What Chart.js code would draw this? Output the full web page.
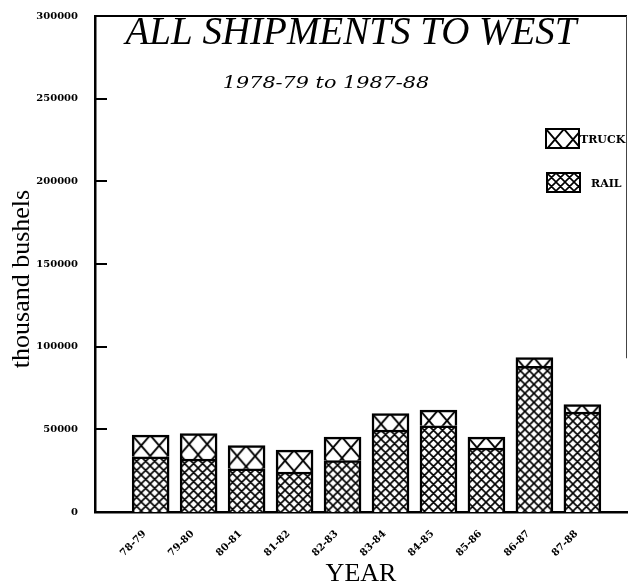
<!DOCTYPE html>
<html>
<head>
<meta charset="utf-8">
<script src="https://cdn.jsdelivr.net/npm/chart.js@4.4.0/dist/chart.umd.min.js"></script>
<style>
  html, body { margin: 0; padding: 0; background: #fff; }
  #wrap { width: 628px; height: 587px; }
</style>
</head>
<body>
<div id="wrap"><canvas id="grafik"></canvas></div>
<script>
// data (thousand bushels)
const years = ['78-79', '79-80', '80-81', '81-82', '82-83', '83-84', '84-85', '85-86', '86-87', '87-88'];
const rail  = [33400, 32000, 26100, 24100, 31100, 49500, 52100, 38600, 88100, 60400];
const truck = [13100, 15400, 14100, 13300, 14200, 10100,  9500,  6700,  5300,  4600];
const yTicks = [0, 50000, 100000, 150000, 200000, 250000, 300000];

// hatch tiles
function makeTile(w, h, lw) {
  const c = document.createElement('canvas');
  c.width = w; c.height = h;
  const g = c.getContext('2d');
  g.fillStyle = '#fff';
  g.fillRect(0, 0, w, h);
  g.strokeStyle = '#000';
  g.lineWidth = lw;
  g.beginPath();
  for (let k = -1; k <= 1; k++) {
    g.moveTo(k * w, 0); g.lineTo(k * w + w, h);
    g.moveTo(k * w + w, 0); g.lineTo(k * w, h);
  }
  g.stroke();
  return c;
}
const railTile = makeTile(9, 9, 1.6);
const truckTile = makeTile(18, 21, 1.8);

// pattern anchored to the top left corner of each bar
function hatch(kind) {
  return function (c) {
    const ch = c.chart, i = c.dataIndex;
    const tile = kind === 'truck' ? truckTile : railTile;
    const p = ch.ctx.createPattern(tile, 'repeat');
    if (i === undefined || !ch.scales.x || !ch.scales.y) return p;
    const left = ch.scales.x.getPixelForValue(i) - 18.5;
    const top = ch.scales.y.getPixelForValue(kind === 'truck' ? rail[i] + truck[i] : rail[i]);
    p.setTransform(new DOMMatrix([1, 0, 0, 1, left, top]));
    return p;
  };
}

const decor = {
  id: 'decor',
  afterDraw(chart) {
    const { ctx, chartArea: a, scales: { y } } = chart;
    ctx.save();
    ctx.strokeStyle = '#000';
    ctx.fillStyle = '#000';

    // frame
    ctx.lineWidth = 2;
    ctx.beginPath();
    ctx.moveTo(a.left, a.top);
    ctx.lineTo(a.right, a.top);
    ctx.stroke();
    ctx.lineWidth = 1;
    ctx.strokeStyle = '#444';
    ctx.beginPath();
    ctx.moveTo(a.right - 0.5, a.top);
    ctx.lineTo(a.right - 0.5, a.top + (a.bottom - a.top) * 0.69);
    ctx.stroke();

    // inner tick marks
    ctx.strokeStyle = '#000';
    ctx.lineWidth = 2;
    yTicks.slice(1, -1).forEach(v => {
      const py = Math.round(y.getPixelForValue(v));
      ctx.beginPath();
      ctx.moveTo(a.left, py);
      ctx.lineTo(a.left + 12, py);
      ctx.stroke();
    });

    // titles
    ctx.textAlign = 'center';
    ctx.textBaseline = 'alphabetic';
    ctx.font = 'italic 39px "Liberation Serif"';
    ctx.fillText('ALL SHIPMENTS TO WEST', 351, 44);
    ctx.save();
    ctx.translate(326, 88);
    ctx.scale(1.22, 1);
    ctx.font = 'italic 17px "DejaVu Serif"';
    ctx.fillText('1978-79 to 1987-88', 0, 0);
    ctx.restore();

    // y title
    ctx.save();
    ctx.translate(22, 279);
    ctx.rotate(-Math.PI / 2);
    ctx.textBaseline = 'middle';
    ctx.font = '26px "Liberation Serif"';
    ctx.fillText('thousand bushels', 0, 0);
    ctx.restore();

    // legend
    const items = [
      { label: 'TRUCK', tile: truckTile, x: 546, y: 129, tx: 580 },
      { label: 'RAIL', tile: railTile, x: 547, y: 173, tx: 591 }
    ];
    ctx.textAlign = 'left';
    ctx.textBaseline = 'middle';
    ctx.font = 'bold 11px "DejaVu Serif"';
    items.forEach(it => {
      const p = ctx.createPattern(it.tile, 'repeat');
      p.setTransform(new DOMMatrix([1, 0, 0, 1, it.x, it.y]));
      ctx.fillStyle = p;
      ctx.fillRect(it.x, it.y, 33, 19);
      ctx.lineWidth = 2;
      ctx.strokeRect(it.x, it.y, 33, 19);
      ctx.fillStyle = '#000';
      ctx.fillText(it.label, it.tx, it.y + 11);
    });
    ctx.restore();
  }
};

const tickFont = { family: 'DejaVu Serif', size: 10, weight: 'bold' };

new Chart(document.getElementById('grafik'), {
  type: 'bar',
  data: {
    datasets: [{
      label: 'RAIL',
      data: rail.map((v, i) => ({ x: i, y: v })),
      backgroundColor: hatch('rail'),
      borderColor: '#000',
      borderWidth: 2.5,
      stack: 'all'
    }, {
      label: 'TRUCK',
      data: truck.map((v, i) => ({ x: i, y: v })),
      backgroundColor: hatch('truck'),
      borderColor: '#000',
      borderWidth: 2.5,
      stack: 'all'
    }]
  },
  options: {
    responsive: true,
    maintainAspectRatio: false,
    animation: false,
    events: [],
    barThickness: 37,
    layout: { padding: { top: 16, right: 1 } },
    scales: {
      x: {
        type: 'linear',
        offset: false,
        min: -1.16,
        max: 9.93,
        afterBuildTicks: s => { s.ticks = years.map((_, i) => ({ value: i })); },
        afterFit: s => { s.height = 75; s.paddingTop = 0; },
        grid: { display: false, drawTicks: false },
        border: { display: true, width: 2.5, color: '#000' },
        ticks: {
          autoSkip: false,
          minRotation: 45,
          maxRotation: 45,
          padding: 16,
          labelOffset: -6,
          color: '#000',
          font: tickFont,
          callback: v => years[v] ?? ''
        },
        title: {
          display: true,
          text: 'YEAR',
          color: '#000',
          padding: 0,
          font: { family: 'Liberation Serif', size: 26, lineHeight: 1 }
        }
      },
      y: {
        stacked: true,
        min: 0,
        max: 300000,
        afterBuildTicks: s => { s.ticks = yTicks.map(v => ({ value: v })); },
        afterFit: s => { s.width = 95; s.paddingTop = 0; s.paddingBottom = 0; },
        grid: { display: false, drawTicks: false },
        border: { display: true, width: 2.5, color: '#000' },
        ticks: {
          padding: 17,
          color: '#000',
          font: tickFont,
          callback: v => String(v)
        }
      }
    },
    plugins: {
      legend: { display: false },
      tooltip: { enabled: false }
    }
  },
  plugins: [decor]
});
</script>
</body>
</html>
